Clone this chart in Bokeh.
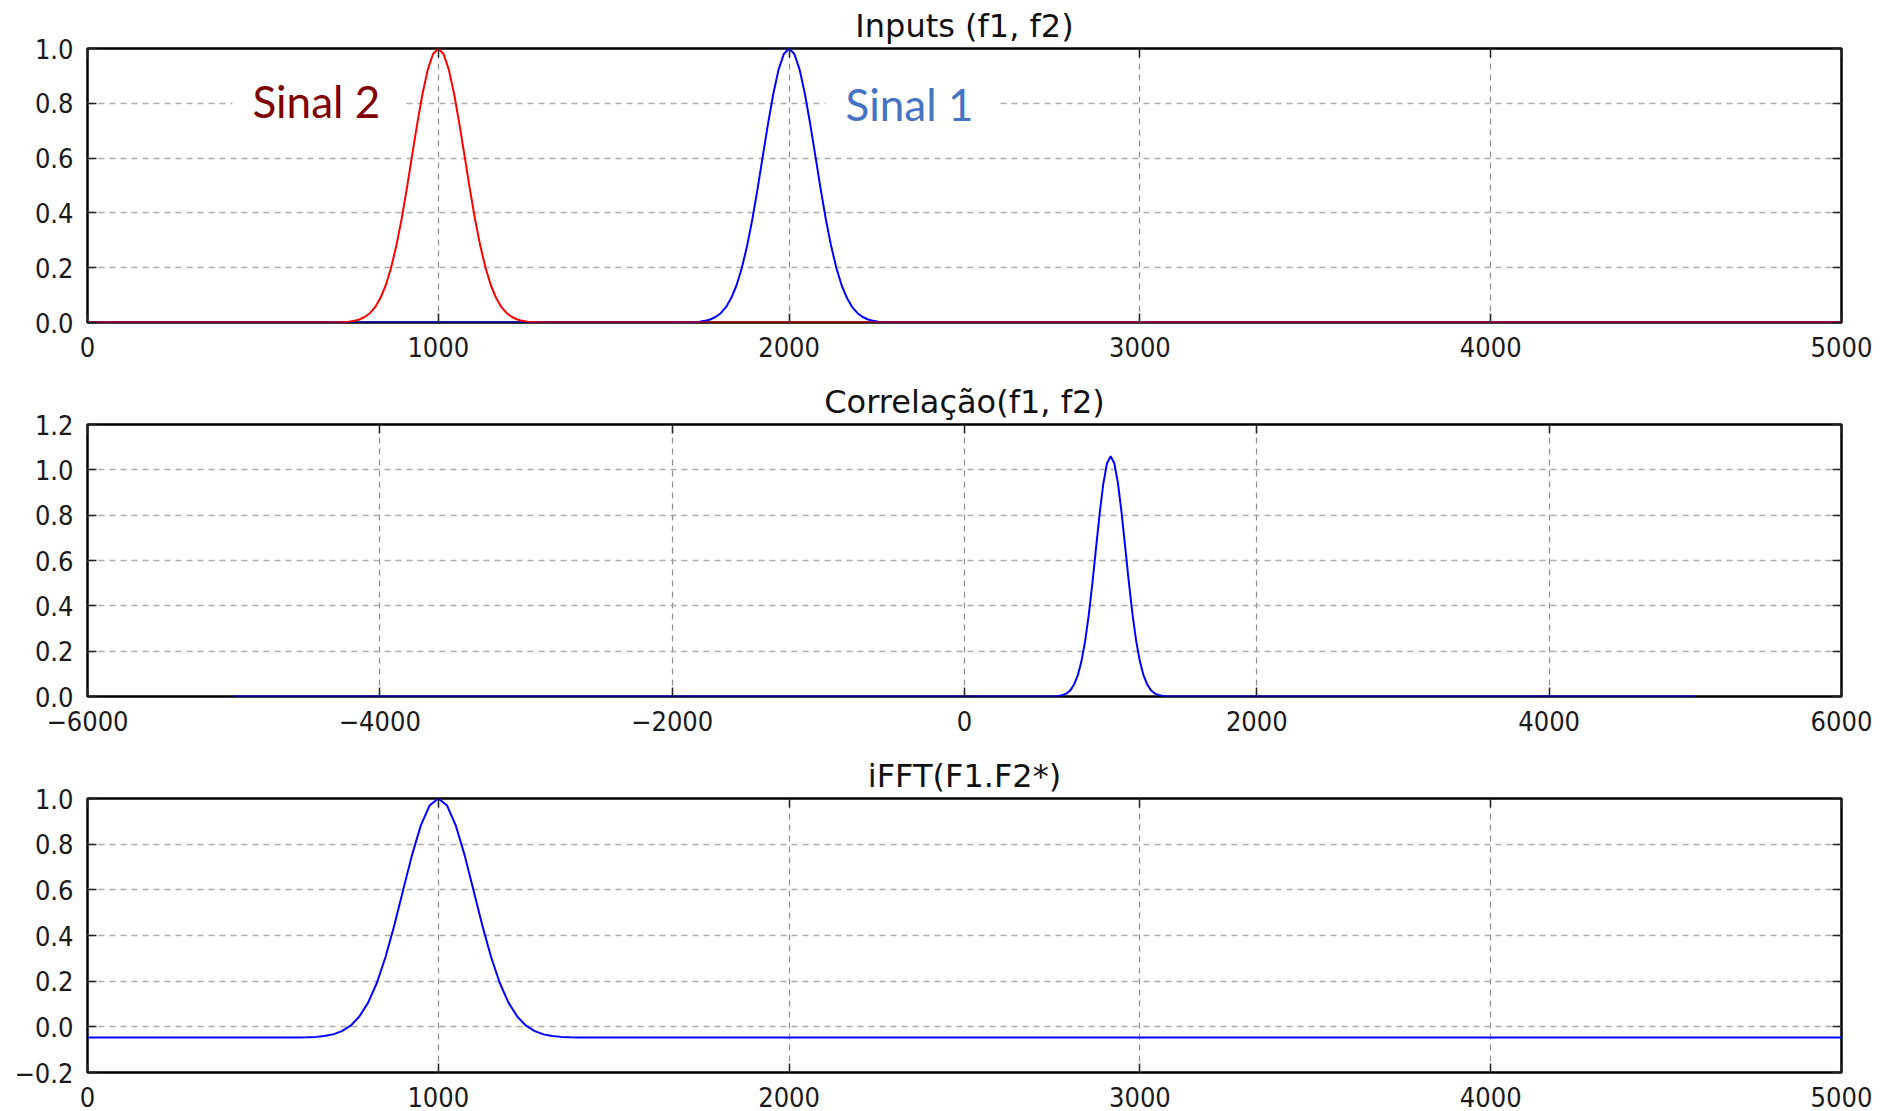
from bokeh.plotting import figure
from bokeh.layouts import column
from bokeh.models import LinearAxis, FixedTicker, Range1d, Label, Grid
from bokeh.embed import file_html
from bokeh.resources import INLINE

# ---------------- data ----------------
# Panel 1: inputs
f1_x = [0, 1700, 1730, 1745, 1760, 1775, 1790, 1805, 1820, 1835, 1850, 1865, 1880,
        1895, 1910, 1925, 1940, 1955, 1970, 1985, 2000, 2015, 2030, 2045, 2060,
        2075, 2090, 2105, 2120, 2135, 2150, 2165, 2180, 2195, 2210, 2225, 2240,
        2255, 2270, 2300, 4999]
f1_y = [0, 0, 0.0015, 0.003, 0.006, 0.011, 0.020, 0.034, 0.056, 0.089, 0.135, 0.198,
        0.278, 0.375, 0.487, 0.607, 0.726, 0.835, 0.923, 0.980, 1.000, 0.980, 0.923,
        0.835, 0.726, 0.607, 0.487, 0.375, 0.278, 0.198, 0.135, 0.089, 0.056, 0.034,
        0.020, 0.011, 0.006, 0.003, 0.0015, 0, 0]
f2_x = [0, 700, 730, 745, 760, 775, 790, 805, 820, 835, 850, 865, 880,
        895, 910, 925, 940, 955, 970, 985, 1000, 1015, 1030, 1045, 1060,
        1075, 1090, 1105, 1120, 1135, 1150, 1165, 1180, 1195, 1210, 1225, 1240,
        1255, 1270, 1300, 4999]
f2_y = [0, 0, 0.0015, 0.003, 0.006, 0.011, 0.020, 0.034, 0.056, 0.089, 0.135, 0.198,
        0.278, 0.375, 0.487, 0.607, 0.726, 0.835, 0.923, 0.980, 1.000, 0.980, 0.923,
        0.835, 0.726, 0.607, 0.487, 0.375, 0.278, 0.198, 0.135, 0.089, 0.056, 0.034,
        0.020, 0.011, 0.006, 0.003, 0.0015, 0, 0]

# Panel 2: correlation
corr_x = [-4999, 600, 625, 650, 675, 700, 725, 750, 775, 800, 825, 850, 875, 900,
          925, 950, 975, 1000, 1025, 1050, 1075, 1100, 1125, 1150, 1175, 1200,
          1225, 1250, 1275, 1300, 1325, 1350, 1375, 1400, 4999]
corr_y = [0, 0, 0.001, 0.003, 0.007, 0.014, 0.028, 0.053, 0.093, 0.155, 0.243, 0.359,
          0.500, 0.656, 0.809, 0.940, 1.029, 1.060, 1.029, 0.940, 0.809, 0.656, 0.500,
          0.359, 0.243, 0.155, 0.093, 0.053, 0.028, 0.014, 0.007, 0.003, 0.001, 0, 0]

# Panel 3: iFFT(F1.F2*)
ifft_x = [0, 600, 625, 650, 675, 700, 725, 750, 775, 800, 825, 850, 875, 900,
          925, 950, 975, 1000, 1025, 1050, 1075, 1100, 1125, 1150, 1175, 1200,
          1225, 1250, 1275, 1300, 1325, 1350, 1375, 1400, 4999]
ifft_y = [-0.047, -0.047, -0.046, -0.044, -0.040, -0.033, -0.019, 0.005, 0.045, 0.106,
          0.193, 0.308, 0.447, 0.600, 0.752, 0.881, 0.969, 1.000, 0.969, 0.881, 0.752,
          0.600, 0.447, 0.308, 0.193, 0.106, 0.045, 0.005, -0.019, -0.033, -0.040,
          -0.044, -0.046, -0.047, -0.047]

titles = ["Inputs (f1, f2)", "Correlação(f1, f2)", "iFFT(F1.F2*)"]

xticks_a = [0, 1000, 2000, 3000, 4000, 5000]
xlabels_a = ["0", "1000", "2000", "3000", "4000", "5000"]
xticks_b = [-6000, -4000, -2000, 0, 2000, 4000, 6000]
xlabels_b = ["\u22126000", "\u22124000", "\u22122000", "0", "2000", "4000", "6000"]

yticks_1 = [0.0, 0.2, 0.4, 0.6, 0.8, 1.0]
ylabels_1 = ["0.0", "0.2", "0.4", "0.6", "0.8", "1.0"]
yticks_2 = [0.0, 0.2, 0.4, 0.6, 0.8, 1.0, 1.2]
ylabels_2 = ["0.0", "0.2", "0.4", "0.6", "0.8", "1.0", "1.2"]
yticks_3 = [-0.2, 0.0, 0.2, 0.4, 0.6, 0.8, 1.0]
ylabels_3 = ["\u22120.2", "0.0", "0.2", "0.4", "0.6", "0.8", "1.0"]

# ---------------- helpers ----------------
TICK_FONT = "DejaVu Sans Condensed"


def make_axis(ticks, labels, show_labels):
    if show_labels:
        overrides = {t: l for t, l in zip(ticks, labels)}
    else:
        overrides = {t: "" for t in ticks}
    ax = LinearAxis(ticker=FixedTicker(ticks=ticks), major_label_overrides=overrides)
    ax.axis_line_color = None
    ax.major_tick_in = 9
    ax.major_tick_out = 0
    ax.major_tick_line_color = "#222222"
    ax.major_tick_line_width = 1.5
    ax.minor_tick_line_color = None
    ax.major_label_text_font = TICK_FONT
    ax.major_label_text_color = "#1a1a1a"
    if show_labels:
        ax.major_label_text_font_size = "27px"
    else:
        ax.major_label_text_font_size = "1px"
        ax.major_label_standoff = 0
    return ax


def make_panel(title, xr, yr, xt, xl, yt, yl, top, frame_h, bottom):
    p = figure(width=1894, height=top + frame_h + bottom,
               x_range=Range1d(*xr), y_range=Range1d(*yr),
               x_axis_type=None, y_axis_type=None,
               output_backend="svg", toolbar_location=None,
               min_border_left=87, min_border_right=53,
               min_border_top=top, min_border_bottom=bottom)
    p.background_fill_color = "white"
    p.border_fill_color = "white"
    p.outline_line_color = "black"
    p.outline_line_width = 2.5
    p.outline_line_alpha = 1.0

    bx = make_axis(xt, xl, True)
    bx.major_label_standoff = 14
    p.add_layout(bx, "below")
    tx = make_axis(xt, xl, False)
    p.add_layout(tx, "above")
    ly = make_axis(yt, yl, True)
    ly.major_label_standoff = 14
    p.add_layout(ly, "left")
    ry = make_axis(yt, yl, False)
    p.add_layout(ry, "right")

    p.add_layout(Grid(dimension=0, ticker=bx.ticker, grid_line_color="#8c8c8c",
                      grid_line_width=1.2, grid_line_dash="6 5"))
    p.add_layout(Grid(dimension=1, ticker=ly.ticker, grid_line_color="#ababab",
                      grid_line_width=1.5, grid_line_dash="6 5"))

    p.title.text = title
    p.title.align = "center"
    p.title.text_font = "DejaVu Sans"
    p.title.text_font_size = "32px"
    p.title.text_font_style = "normal"
    p.title.text_color = "#111111"
    p.title.standoff = 8
    return p


# ---------------- panel 1 ----------------
p1 = make_panel(titles[0], (0, 5000), (0, 1.0), xticks_a, xlabels_a,
                yticks_1, ylabels_1, 48, 274, 54)
p1.line(f1_x, f1_y, line_color="#0000ff", line_width=2)
p1.line(f2_x, f2_y, line_color="#ff0000", line_width=2)
p1.add_layout(Label(x=413, y=0.810, text="Sinal 2", text_font="Lato",
                    text_font_size="44px", text_color="#7f0000",
                    text_baseline="alphabetic", background_fill_color="white",
                    padding=dict(left=20, right=25, top=2, bottom=2)))
p1.add_layout(Label(x=2104, y=0.796, text="Sinal 1", text_font="Lato",
                    text_font_size="44px", text_color="#4472c4",
                    text_baseline="alphabetic", background_fill_color="white",
                    padding=dict(left=20, right=25, top=2, bottom=2)))

# ---------------- panel 2 ----------------
p2 = make_panel(titles[1], (-6000, 6000), (0, 1.2), xticks_b, xlabels_b,
                yticks_2, ylabels_2, 48, 272, 54)
p2.line(corr_x, corr_y, line_color="#0000ff", line_width=2)

# ---------------- panel 3 ----------------
p3 = make_panel(titles[2], (0, 5000), (-0.2, 1.0), xticks_a, xlabels_a,
                yticks_3, ylabels_3, 48, 274, 39)
p3.line(ifft_x, ifft_y, line_color="#0000ff", line_width=2)

layout = column(p1, p2, p3, spacing=0)
open("out.html", "w").write(file_html(layout, INLINE))
